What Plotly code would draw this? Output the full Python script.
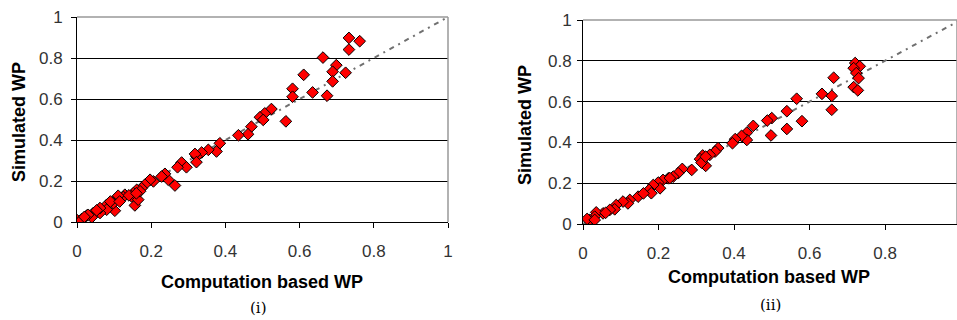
import plotly.graph_objects as go

# Panel (i) data: computation based WP (x) vs simulated WP (y)
comp_i = [0.733, 0.762, 0.733, 0.663, 0.699, 0.689, 0.724, 0.611, 0.689, 0.581,
          0.635, 0.581, 0.674, 0.524, 0.506, 0.493, 0.502, 0.563, 0.470, 0.461,
          0.435, 0.385, 0.376, 0.354, 0.336, 0.322, 0.318, 0.322, 0.282, 0.295,
          0.271, 0.264, 0.246, 0.237, 0.228, 0.206, 0.197, 0.183, 0.174, 0.161,
          0.152, 0.156, 0.147, 0.129, 0.125, 0.102, 0.102, 0.098, 0.080, 0.080,
          0.062, 0.062, 0.044, 0.040, 0.026, 0.013, 0.001, 0.008, 0.053, 0.111,
          0.165, 0.170, 0.140, 0.090, 0.030, 0.020, 0.115, 0.160]
sim_i = [0.898, 0.882, 0.841, 0.802, 0.765, 0.733, 0.728, 0.718, 0.686, 0.650,
         0.632, 0.611, 0.616, 0.551, 0.530, 0.511, 0.498, 0.491, 0.465, 0.428,
         0.423, 0.384, 0.344, 0.352, 0.339, 0.319, 0.332, 0.292, 0.290, 0.267,
         0.267, 0.178, 0.206, 0.235, 0.222, 0.198, 0.206, 0.182, 0.165, 0.157,
         0.141, 0.081, 0.125, 0.133, 0.122, 0.109, 0.055, 0.092, 0.084, 0.060,
         0.044, 0.068, 0.044, 0.023, 0.031, 0.015, 0.008, 0.003, 0.057, 0.128,
         0.109, 0.150, 0.130, 0.100, 0.035, 0.025, 0.100, 0.140]

# Panel (ii) data
comp_ii = [0.721, 0.733, 0.717, 0.724, 0.730, 0.664, 0.717, 0.728, 0.633, 0.659,
           0.566, 0.659, 0.540, 0.580, 0.500, 0.488, 0.540, 0.451, 0.434, 0.498,
           0.434, 0.420, 0.403, 0.396, 0.358, 0.350, 0.336, 0.317, 0.310, 0.325,
           0.314, 0.288, 0.263, 0.252, 0.239, 0.226, 0.212, 0.199, 0.204, 0.186,
           0.175, 0.181, 0.146, 0.124, 0.119, 0.106, 0.088, 0.084, 0.071, 0.053,
           0.035, 0.031, 0.018, 0.011, 0.031, 0.325, 0.230, 0.160, 0.060]
sim_ii = [0.789, 0.773, 0.764, 0.740, 0.715, 0.717, 0.671, 0.655, 0.638, 0.628,
          0.614, 0.560, 0.553, 0.504, 0.519, 0.507, 0.466, 0.481, 0.448, 0.434,
          0.412, 0.432, 0.416, 0.396, 0.372, 0.355, 0.339, 0.336, 0.318, 0.285,
          0.301, 0.265, 0.270, 0.249, 0.232, 0.224, 0.216, 0.203, 0.175, 0.191,
          0.167, 0.151, 0.134, 0.118, 0.101, 0.110, 0.093, 0.072, 0.069, 0.052,
          0.057, 0.036, 0.020, 0.025, 0.020, 0.330, 0.225, 0.150, 0.055]

ref_line = [0, 1]
tick_vals = [0, 0.2, 0.4, 0.6, 0.8, 1]
tick_text = ["0", "0.2", "0.4", "0.6", "0.8", "1"]
x_title = "Computation based WP"
y_title = "Simulated WP"
panel_labels = ["(i)", "(ii)"]

FONT = "Liberation Sans, Arial, sans-serif"
marker = dict(symbol="diamond", size=9, color="#ff0000",
              line=dict(color="black", width=1))
line_style = dict(color="#707070", width=2, dash="5px,5px,2px,5px")

fig = go.Figure()
for i, (cx, sy, xa, ya) in enumerate([(comp_i, sim_i, "x", "y"),
                                      (comp_ii, sim_ii, "x2", "y2")]):
    fig.add_trace(go.Scatter(x=ref_line, y=ref_line, mode="lines", line=line_style,
                             xaxis=xa, yaxis=ya, showlegend=False, hoverinfo="skip"))
    fig.add_trace(go.Scatter(x=cx, y=sy, mode="markers", marker=marker,
                             xaxis=xa, yaxis=ya, showlegend=False))

ax_common = dict(tickvals=tick_vals, ticktext=tick_text, ticks="outside", ticklen=5,
                 tickcolor="black", showline=True, linecolor="black", linewidth=1,
                 zeroline=False, automargin=False,
                 tickfont=dict(family=FONT, size=17, color="#333333"))

fig.update_layout(
    width=957, height=320, margin=dict(l=0, r=0, t=0, b=0),
    paper_bgcolor="white", plot_bgcolor="white",
    xaxis=dict(domain=[77/957, 448/957], range=[0, 1], showgrid=False,
               ticklabelstandoff=9, anchor="y", **ax_common),
    yaxis=dict(domain=[98/320, 303/320], range=[0, 1], showgrid=True,
               gridcolor="black", gridwidth=1, ticklabelstandoff=5, anchor="x",
               **ax_common),
    xaxis2=dict(domain=[583/957, 1], range=[0, 0.9907], showgrid=False,
                ticklabelstandoff=9, anchor="y2", **ax_common),
    yaxis2=dict(domain=[96/320, 300/320], range=[0, 1], showgrid=True,
                gridcolor="black", gridwidth=1, ticklabelstandoff=2, anchor="x2",
                **ax_common),
)

# gray frame (top & right) over the plot areas
for xr, yr in [("x domain", "y domain"), ("x2 domain", "y2 domain")]:
    fig.add_shape(type="line", xref=xr, yref=yr, x0=0, x1=1, y0=1, y1=1,
                  line=dict(color="#999999", width=1.5), layer="above")
    fig.add_shape(type="line", xref=xr, yref=yr, x0=1, x1=1, y0=0, y1=1,
                  line=dict(color="#999999", width=1.5), layer="above")

title_font = dict(family=FONT, size=18, color="black")
anns = [
    dict(x=262/957, y=1-282/320, text="<b>%s</b>" % x_title),
    dict(x=769/957, y=1-277/320, text="<b>%s</b>" % x_title),
    dict(x=19/957, y=1-122/320, text="<b>%s</b>" % y_title, textangle=-90),
    dict(x=525/957, y=1-125/320, text="<b>%s</b>" % y_title, textangle=-90),
]
for a in anns:
    fig.add_annotation(xref="paper", yref="paper", showarrow=False,
                       xanchor="center", yanchor="middle", font=title_font, **a)
for lbl, (px, py) in zip(panel_labels, [(258, 308), (770, 305)]):
    fig.add_annotation(xref="paper", yref="paper", x=px/957, y=1-py/320, text=lbl,
                       showarrow=False, xanchor="center", yanchor="middle",
                       font=dict(family="DejaVu Serif, serif", size=15, color="black"))

fig.write_html("out.html", config={"displayModeBar": False},
               post_script="document.body.style.margin='0';"
                           "document.body.style.overflow='hidden';")
